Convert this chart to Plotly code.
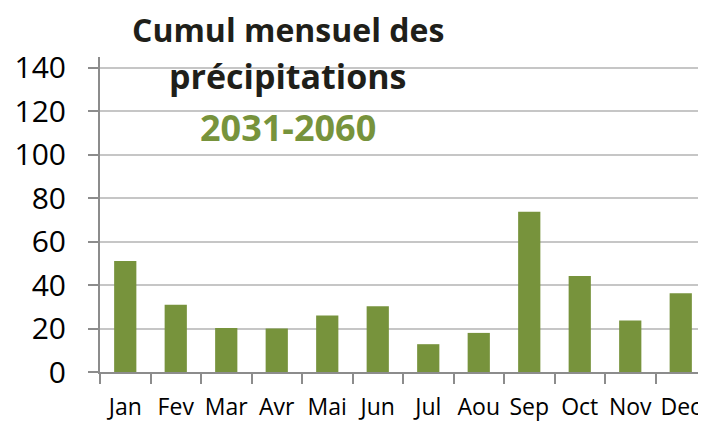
import plotly.graph_objects as go

months = ["Jan", "Fev", "Mar", "Avr", "Mai", "Jun", "Jul", "Aou", "Sep", "Oct", "Nov", "Dec"]
precip = [51.1, 30.9, 20.3, 20.0, 26.0, 30.3, 12.8, 18.0, 73.8, 44.2, 23.7, 36.3]
y_ticks = [0, 20, 40, 60, 80, 100, 120, 140]

title_lines = ["Cumul mensuel des", "précipitations", "2031-2060"]

GREEN = "#77933c"
DARK = "#1f1f1a"
AXIS = "#8c8c8c"
GRID = "#c6c6c6"
FONT = "Open Sans"

# page body has an 8px default margin, so the figure is drawn 8px in
OFF = 8
W, H = 706 - OFF, 426 - OFF
ML, MR, MT, MB = 100 - OFF, 0, 57 - OFF, 54

fig = go.Figure(
    go.Bar(x=months, y=precip, marker=dict(color=GREEN, line=dict(width=0)))
)

fig.update_layout(
    width=W,
    height=H,
    margin=dict(l=ML, r=MR, t=MT, b=MB, autoexpand=False),
    paper_bgcolor="white",
    plot_bgcolor="white",
    bargap=0.56,
    showlegend=False,
    font=dict(family=FONT, color="#000000"),
)

fig.update_xaxes(
    type="category",
    tickson="boundaries",
    ticks="outside",
    ticklen=10,
    tickwidth=2,
    tickcolor=AXIS,
    tickangle=0,
    automargin=False,
    showline=True,
    linecolor=AXIS,
    linewidth=2,
    showgrid=False,
    ticklabelstandoff=13,
    tickfont=dict(family=FONT, size=23, color="#000000"),
)

fig.update_yaxes(
    range=[0, 145],
    tickvals=y_ticks,
    ticks="outside",
    ticklen=10,
    tickwidth=2,
    tickcolor=AXIS,
    automargin=False,
    showline=True,
    linecolor=AXIS,
    linewidth=2,
    showgrid=True,
    gridcolor=GRID,
    gridwidth=1.5,
    zeroline=False,
    ticklabelstandoff=16,
    tickfont=dict(family=FONT, size=30, color="#000000"),
)

plot_h = H - MT - MB
mids = [29, 76, 128]
sizes = [32, 34, 36]
colors = [DARK, DARK, GREEN]
for txt, ym, sz, col in zip(title_lines, mids, sizes, colors):
    fig.add_annotation(
        text="<b>" + txt + "</b>",
        xref="paper", yref="paper",
        x=(288 - 100) / (W - ML - MR),
        y=(H - MB - (ym - OFF)) / plot_h,
        xanchor="center", yanchor="middle",
        showarrow=False,
        font=dict(family=FONT, size=sz, color=col),
    )

fig.write_html("out.html")
